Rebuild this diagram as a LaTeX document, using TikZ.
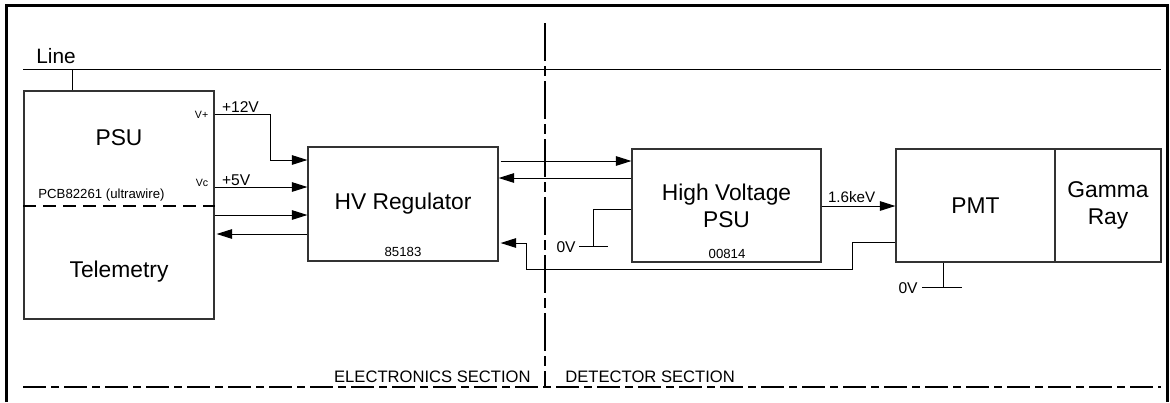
\documentclass[tikz,border=0pt]{standalone}
\usepackage{fontspec}
\setmainfont{Liberation Sans}
\usetikzlibrary{arrows.meta}
\begin{document}
\begin{tikzpicture}[x=0.5pt,y=-0.5pt,
  box/.style={draw=black!80,line width=.6pt,inner sep=0pt,align=center,font=\fontsize{11.4}{13.5}\selectfont},
  wire/.style={line width=.5pt},
  arr/.style={wire,-{Triangle[length=7.8pt,width=4.8pt]}},
  big/.style={inner sep=0pt,font=\fontsize{11.4}{13.5}\selectfont},
  mid/.style={inner sep=0pt,font=\fontsize{7.8}{9}\selectfont},
  small/.style={inner sep=0pt,font=\fontsize{6.6}{8}\selectfont},
  tiny/.style={inner sep=0pt,font=\fontsize{5.3}{6}\selectfont},
  sect/.style={line width=1pt,dash pattern=on 11.5pt off 2.5pt on 4pt off 2.5pt}]
\useasboundingbox (0,0) rectangle (1170,402);
\draw[line width=1.6pt] (6.5,402)--(6.5,5.5)--(1167.5,5.5)--(1167.5,402);
\node[box,minimum width=95pt,minimum height=114pt] (psu) at (119,205) {};
\node[big] (psut) at (119,138) {PSU};\node[big] (tel) at (119,272) {Telemetry};
\node[small] (pcb) at (101.5,195) {PCB82261 (ultrawire)};
\draw[line width=1pt,dash pattern=on 6.5pt off 3.5pt] ([shift={(0,1)}]psu.west)--([shift={(0,1)}]psu.east);
\node[box,minimum width=95pt,minimum height=57pt] (hvr) at (403,204) {HV Regulator};
\node[small] (hvrn) at (403,252) {85183};
\node[box,minimum width=94.5pt,minimum height=56.5pt] (hvpsu) at (726.5,205.5) {High Voltage\\PSU};
\node[small] (hvpsun) at (727,254) {00814};
\node[box,minimum width=79.5pt,minimum height=56.5pt] (pmt) at (975.5,205.5) {PMT};
\node[box,minimum width=53pt,minimum height=56.5pt] (gam) at (1108,205.5) {Gamma\\Ray};
\coordinate (lineL) at (23,69);\coordinate (lineR) at (1161,69);
\draw[wire] (lineL)--(lineR);\draw[wire] ([xshift=-23.5pt]psu.north)--([xshift=-23.5pt]psu.north |- lineL);
\node[inner sep=0pt,font=\fontsize{10.4}{12}\selectfont,anchor=south west] (line) at (36,64.5) {Line};
\coordinate (vp) at ([shift={(0,-91)}]psu.east);\coordinate (vc) at ([shift={(0,-18)}]psu.east);
\coordinate (p3) at ([shift={(0,10)}]psu.east);\coordinate (p4) at ([shift={(0,29)}]psu.east);
\node[tiny,anchor=east] (vpl) at ([shift={(-6,1)}]vp) {V+};\node[tiny,anchor=east] (vcl) at ([shift={(-6,-4)}]vc) {Vc};
\node[mid,anchor=south west] (v12) at ([shift={(7,-1)}]vp) {+12V};\node[mid,anchor=south west] (v5) at ([shift={(7,-1)}]vc) {+5V};
\draw[arr] (vp)--++(56,0) |- ([shift={(0,-44)}]hvr.west);
\draw[arr] (vc)--(vc -| hvr.west);\draw[arr] (p3)--(p3 -| hvr.west);\draw[arr] (p4 -| hvr.west)--([xshift=1pt]p4);
\coordinate (h1) at ([shift={(0,-43)}]hvr.east);\coordinate (h2) at ([shift={(0,-26)}]hvr.east);\coordinate (h3) at ([shift={(0,39)}]hvr.east);
\draw[arr] ([xshift=1pt]h1)--(h1 -| hvpsu.west);\draw[arr] (h2 -| hvpsu.west)--(h2);
\draw[arr] ([shift={(0,36.5)}]pmt.west)--++(-43,0)--++(0,27) -| ([xshift=14pt]h3)--([xshift=1pt]h3);
\coordinate (gnd1) at (593,246);
\draw[wire] ([shift={(0,3.5)}]hvpsu.west) -| (gnd1);\draw[wire] ([xshift=-7pt]gnd1)--([xshift=7.5pt]gnd1);
\node[inner sep=0pt,font=\fontsize{7.8}{9}\selectfont,anchor=east] (zv1) at ([shift={(-17,1)}]gnd1) {0V};
\coordinate (k) at ([shift={(0,0.5)}]hvpsu.east);
\draw[arr] (k)--(k -| pmt.west);\node[inner sep=0pt,font=\fontsize{7.6}{9}\selectfont,anchor=south west] (kev) at ([shift={(6,-3)}]k) {1.6keV};
\coordinate (gnd2) at ([shift={(-32.5,25)}]pmt.south);
\draw[wire] (gnd2 |- pmt.south)--(gnd2);\draw[wire] ([xshift=-10.5pt]gnd2)--([xshift=9.5pt]gnd2);
\node[inner sep=0pt,font=\fontsize{7.8}{9}\selectfont,anchor=east] (zv2) at ([shift={(-25,1)}]gnd2) {0V};
\coordinate (secT) at (545,23);\coordinate (secB) at (545,387);
\draw[line width=1pt,dash pattern=on 19pt off 2.5pt on 5pt off 2.5pt] (secT)--(secB);
\draw[sect] (lineL |- secB)--(lineR |- secB);
\node[inner sep=0pt,font=\fontsize{8.3}{10}\selectfont,anchor=east] (elec) at ([shift={(-14,-10.5)}]secB) {ELECTRONICS SECTION};
\node[inner sep=0pt,font=\fontsize{8.3}{10}\selectfont,anchor=west] (det) at ([shift={(20,-10.5)}]secB) {DETECTOR SECTION};
\end{tikzpicture}
\end{document}
